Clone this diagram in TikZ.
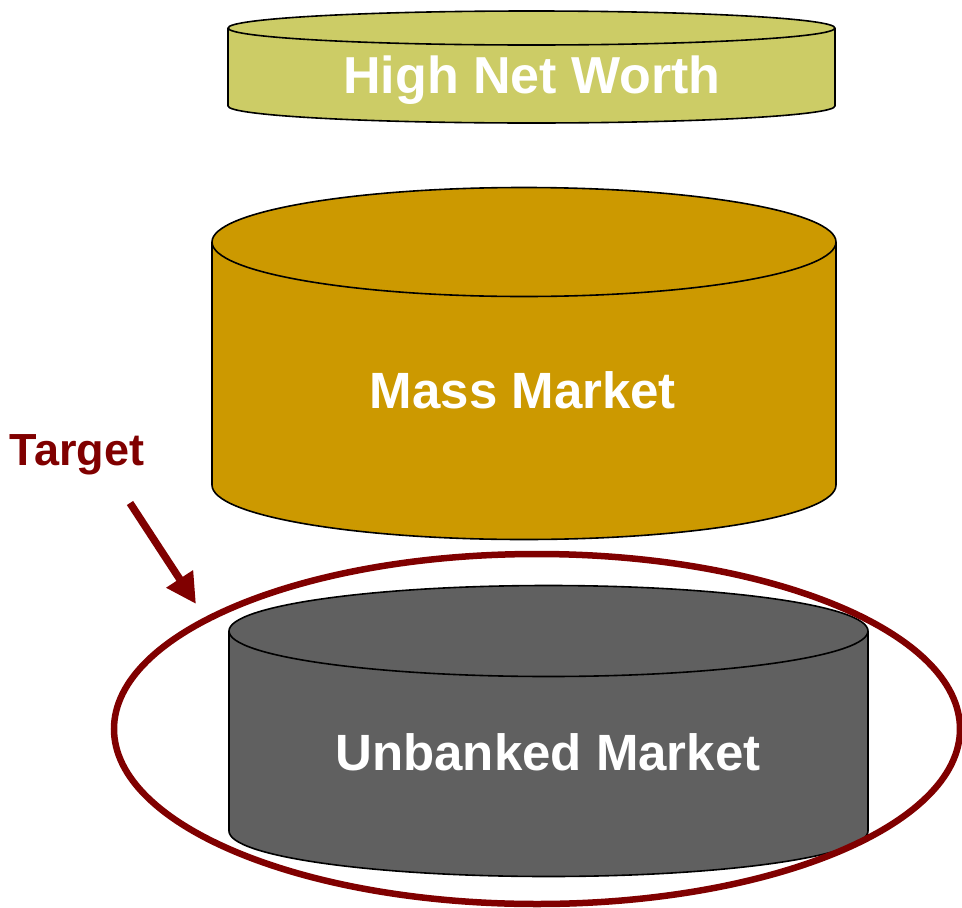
\documentclass[tikz,border=0pt]{standalone}
\usepackage{fontspec}
\setmainfont{Liberation Sans}
\usetikzlibrary{arrows.meta}
\definecolor{hnwfill}{HTML}{CCCC66}
\definecolor{massfill}{HTML}{CC9900}
\definecolor{unbfill}{HTML}{606060}
\definecolor{targetred}{HTML}{800000}
\tikzset{
  drum/.style={draw=black, line width=1.6pt, line join=round},
  drumlabel/.style={text=white, font=\bfseries\fontsize{51}{60}\selectfont, anchor=base, inner sep=0pt},
}
% \drumshape{fill}{left x}{right x}{top rim y}{bottom rim y}{rim radius y}
\newcommand{\drumshape}[6]{%
  \pgfmathsetmacro{\drx}{(#3-#2)/2}%
  \pgfmathsetmacro{\dcx}{(#3+#2)/2}%
  \fill[#1] (#2,#4) -- (#2,#5) arc[start angle=180, end angle=360, x radius=\drx pt, y radius=#6 pt]
        -- (#3,#4) arc[start angle=0, end angle=180, x radius=\drx pt, y radius=#6 pt] -- cycle;
  \draw[drum] (#2,#4) -- (#2,#5) arc[start angle=180, end angle=360, x radius=\drx pt, y radius=#6 pt] -- (#3,#4);
  \draw[drum] (\dcx,#4) ellipse[x radius=\drx pt, y radius=#6 pt];
}
\begin{document}
\begin{tikzpicture}[x=1pt,y=1pt]
  \useasboundingbox (0,0) rectangle (962,-908);

  % three market tiers
  \drumshape{hnwfill}{228}{835}{-28}{-106}{17}
  \drumshape{massfill}{212}{836}{-242}{-485}{54.5}
  \drumshape{unbfill}{229}{868}{-631}{-831}{45.5}

  \node[drumlabel, font=\bfseries\fontsize{52}{60}\selectfont] (hnw) at (532,-93) {High Net Worth};
  \node[drumlabel] (mass) at (523,-408) {Mass Market};
  \node[drumlabel] (unbanked) at (548,-770) {Unbanked Market};

  % target ring around the lowest tier
  \draw[targetred, line width=6.5pt] (537,-729) ellipse[x radius=423pt, y radius=175pt];

  \node[text=targetred, font=\bfseries\fontsize{45}{54}\selectfont, anchor=base, inner sep=0pt] (target) at (77,-465) {Target};
  \coordinate (arrowstart) at (130,-503);
  \coordinate (arrowend) at (196,-604);
  \draw[targetred, line width=7.5pt, -{Triangle[length=30pt, width=30pt]}] (arrowstart) -- (arrowend);
\end{tikzpicture}
\end{document}
